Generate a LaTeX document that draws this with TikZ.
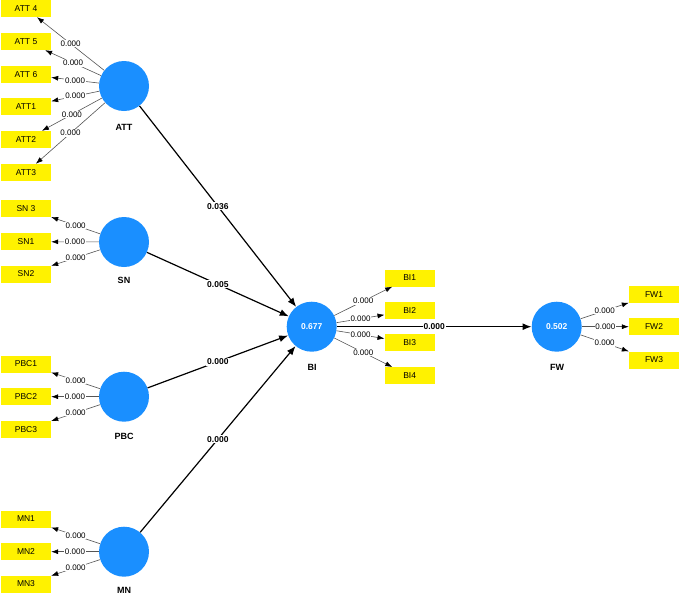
\documentclass[tikz,border=0pt]{standalone}
\usepackage{fontspec}
\setmainfont{Liberation Sans}
\usetikzlibrary{arrows.meta}
\definecolor{lvblue}{HTML}{1A8FFF}
\definecolor{ldgray}{HTML}{555555}
\begin{document}
\begin{tikzpicture}[x=1pt,y=-1pt,
  ind/.style={fill=yellow, minimum width=50pt, minimum height=17pt, inner sep=0pt, font=\fontsize{8.5}{9}\selectfont},
  lv/.style={circle, fill=lvblue, minimum size=50pt, inner sep=0pt, font=\fontsize{8.5}{9}\selectfont\bfseries, text=white},
  lvlab/.style={font=\fontsize{9}{10}\selectfont\bfseries},
  ld/.style={draw=ldgray, line width=0.6pt, -{Latex[length=7pt,width=5pt,color=black]}},
  ldlab/.style={fill=white, inner sep=0.8pt, font=\fontsize{8}{8}\selectfont},
  pth/.style={draw=black, line width=1.2pt, -{Latex[length=9pt,width=7pt]}},
  plab/.style={fill=white, inner sep=1pt, font=\fontsize{8.5}{9}\selectfont\bfseries}]
\useasboundingbox (0,0) rectangle (680,598);
% latent variables
\node[lv] (ATT) at (124,86) {};
\node[lv] (SN) at (124,242) {};
\node[lv] (PBC) at (124,396.7) {};
\node[lv] (MN) at (124,551.7) {};
\node[lv] (BI) at (311.7,326.7) {0.677};
\node[lv] (FW) at (556.7,326.7) {0.502};
\node[lvlab] (lATT) at (124,127) {ATT};
\node[lvlab] (lSN) at (124,280) {SN};
\node[lvlab] (lPBC) at (124,436) {PBC};
\node[lvlab] (lMN) at (124,590) {MN};
\node[lvlab] (lBI) at (312,367) {BI};
\node[lvlab] (lFW) at (557,367) {FW};
% indicators
\node[ind] (ATT4) at (26,8.5) {ATT 4};
\node[ind] (ATT5) at (26,41.5) {ATT 5};
\node[ind] (ATT6) at (26,74.5) {ATT 6};
\node[ind] (ATT1) at (26,106.5) {ATT1};
\node[ind] (ATT2) at (26,139.5) {ATT2};
\node[ind] (ATT3) at (26,172.5) {ATT3};
\node[ind] (SN3) at (26,208.5) {SN 3};
\node[ind] (SN1) at (26,241.7) {SN1};
\node[ind] (SN2) at (26,274) {SN2};
\node[ind] (PBC1) at (26,364) {PBC1};
\node[ind] (PBC2) at (26,396.7) {PBC2};
\node[ind] (PBC3) at (26,429.3) {PBC3};
\node[ind] (MN1) at (26,519) {MN1};
\node[ind] (MN2) at (26,551.7) {MN2};
\node[ind] (MN3) at (26,584) {MN3};
\node[ind] (BI1) at (409.7,278) {BI1};
\node[ind] (BI2) at (409.7,310.7) {BI2};
\node[ind] (BI3) at (409.7,342.7) {BI3};
\node[ind] (BI4) at (409.7,375.7) {BI4};
\node[ind] (FW1) at (654,294.3) {FW1};
\node[ind] (FW2) at (654,326.7) {FW2};
\node[ind] (FW3) at (654,360) {FW3};
% outer loadings
\foreach \lv/\ind in {ATT/ATT4,ATT/ATT5,ATT/ATT6,ATT/ATT1,ATT/ATT2,ATT/ATT3,
  SN/SN3,SN/SN1,SN/SN2,PBC/PBC1,PBC/PBC2,PBC/PBC3,MN/MN1,MN/MN2,MN/MN3,
  BI/BI1,BI/BI2,BI/BI3,BI/BI4,FW/FW1,FW/FW2,FW/FW3}
  \draw[ld] (\lv) -- (\ind) node[ldlab, midway] {0.000};
% structural paths
\draw[pth] (ATT) -- (BI) node[plab, midway] {0.036};
\draw[pth] (SN) -- (BI) node[plab, midway] {0.005};
\draw[pth] (PBC) -- (BI) node[plab, midway] {0.000};
\draw[pth] (MN) -- (BI) node[plab, midway] {0.000};
\draw[pth] (BI) -- (FW) node[plab, midway] {0.000};
\end{tikzpicture}
\end{document}
